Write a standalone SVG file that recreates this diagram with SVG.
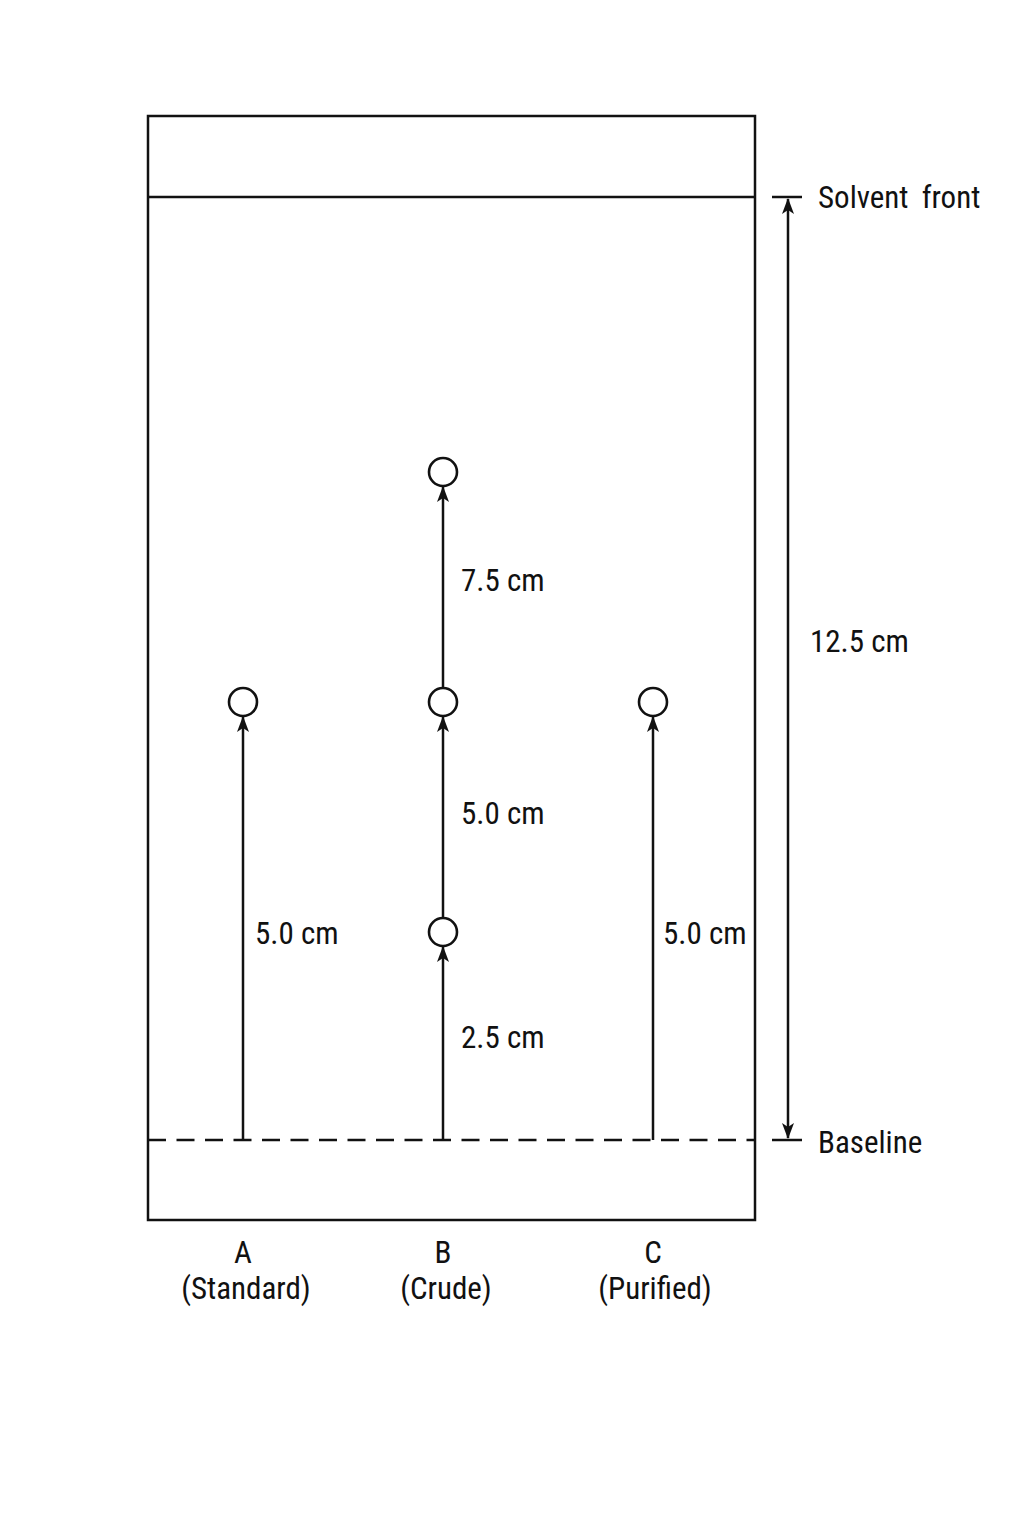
<svg xmlns="http://www.w3.org/2000/svg" width="1024" height="1536" viewBox="0 0 1024 1536">
<defs>
<style>
.ln{stroke:#111;stroke-width:2.5;fill:none}
.spot{stroke:#111;stroke-width:2.6;fill:#fff}
.t{font-family:"Roboto Condensed","DejaVu Sans Condensed",Roboto,sans-serif;font-size:31px;fill:#111}
.m{text-anchor:middle}
</style>
<marker id="ah" viewBox="0 0 16 12" refX="15" refY="6" markerWidth="16" markerHeight="12" markerUnits="userSpaceOnUse" orient="auto-start-reverse">
<path d="M16 6 L0 0 L4 6 L0 12 Z" fill="#111"/>
</marker>
</defs>
<rect width="1024" height="1536" fill="#fff"/>
<g id="plate">
<rect x="148" y="116" width="607" height="1104" class="ln"/>
<line x1="148" y1="197" x2="755" y2="197" class="ln"/>
<line x1="148" y1="1140" x2="755" y2="1140" class="ln" stroke-dasharray="18,10.5"/>
</g>
<g id="connectors">
<line x1="243" y1="1140" x2="243" y2="717" class="ln" marker-end="url(#ah)"/>
<line x1="443" y1="1140" x2="443" y2="947" class="ln" marker-end="url(#ah)"/>
<line x1="443" y1="918" x2="443" y2="717" class="ln" marker-end="url(#ah)"/>
<line x1="443" y1="688" x2="443" y2="487" class="ln" marker-end="url(#ah)"/>
<line x1="653" y1="1140" x2="653" y2="717" class="ln" marker-end="url(#ah)"/>
<line x1="788" y1="199" x2="788" y2="1138" class="ln" marker-start="url(#ah)" marker-end="url(#ah)"/>
<line x1="772" y1="197" x2="802" y2="197" class="ln"/>
<line x1="772" y1="1140" x2="802" y2="1140" class="ln"/>
</g>
<g id="spotA"><circle cx="243" cy="702" r="14" class="spot"/></g>
<g id="spotB1"><circle cx="443" cy="932" r="14" class="spot"/></g>
<g id="spotB2"><circle cx="443" cy="702" r="14" class="spot"/></g>
<g id="spotB3"><circle cx="443" cy="472" r="14" class="spot"/></g>
<g id="spotC"><circle cx="653" cy="702" r="14" class="spot"/></g>
<g id="labels">
<text x="255" y="944" class="t">5.0 cm</text>
<text x="461" y="591" class="t">7.5 cm</text>
<text x="461" y="824" class="t">5.0 cm</text>
<text x="461" y="1048" class="t">2.5 cm</text>
<text x="663" y="944" class="t">5.0 cm</text>
<text x="810" y="652" class="t">12.5 cm</text>
<text x="818" y="208" class="t" word-spacing="6">Solvent front</text>
<text x="818" y="1153" class="t">Baseline</text>
<text x="243" y="1263" class="t m">A</text>
<text x="246" y="1299" class="t m">(Standard)</text>
<text x="443" y="1263" class="t m">B</text>
<text x="446" y="1299" class="t m">(Crude)</text>
<text x="653" y="1263" class="t m">C</text>
<text x="655" y="1299" class="t m">(Purified)</text>
</g>
</svg>
